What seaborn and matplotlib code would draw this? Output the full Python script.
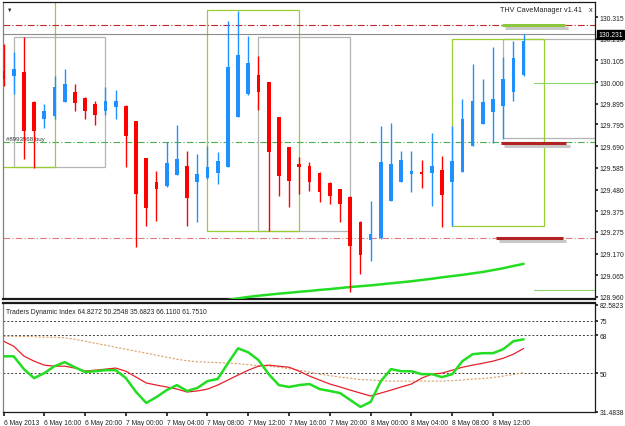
import numpy as np
import pandas as pd
import seaborn as sns
import matplotlib.pyplot as plt
from matplotlib.patches import Rectangle

# H1 candles, 6 May 12:00 -> 8 May 15:00
opens = [130.054, 130.030, 130.049, 129.904, 129.821, 129.836, 129.904, 129.952, 129.923, 129.894,
         129.860, 129.880, 129.884, 129.812, 129.633, 129.517, 129.497, 129.550, 129.594, 129.517,
         129.536, 129.560, 129.589, 129.831, 129.942, 130.034, 130.000, 129.831, 129.686, 129.604,
         129.594, 129.560, 129.512, 129.483, 129.444, 129.323, 129.236, 129.246, 129.425, 129.517,
         129.555, 129.565, 129.560, 129.575, 129.517, 129.565, 129.691, 129.797, 129.855, 129.884,
         129.952, 130.034]
highs = [130.184, 130.146, 130.218, 129.909, 129.894, 130.030, 130.063, 129.991, 129.928, 129.909,
         129.976, 129.962, 129.889, 129.812, 129.633, 129.570, 129.710, 129.792, 129.667, 129.652,
         129.691, 129.662, 130.296, 130.344, 130.223, 130.126, 130.000, 129.831, 129.686, 129.638,
         129.613, 129.565, 129.517, 129.483, 129.449, 129.328, 129.425, 129.788, 129.802, 129.667,
         129.667, 129.623, 129.754, 129.642, 129.788, 129.918, 130.088, 130.015, 130.170, 130.121,
         130.199, 130.233]
lows = [129.981, 129.942, 129.628, 129.584, 129.778, 129.821, 129.904, 129.860, 129.821, 129.792,
        129.841, 129.821, 129.589, 129.202, 129.304, 129.328, 129.492, 129.550, 129.304, 129.323,
        129.531, 129.507, 129.589, 129.831, 129.938, 129.865, 129.279, 129.449, 129.396, 129.459,
        129.473, 129.420, 129.410, 129.323, 128.984, 129.071, 129.134, 129.241, 129.425, 129.517,
        129.468, 129.488, 129.400, 129.299, 129.304, 129.565, 129.691, 129.797, 129.705, 129.725,
        129.909, 130.030]
closes = [130.015, 130.063, 129.763, 129.763, 129.860, 129.976, 129.991, 129.899, 129.860, 129.841,
          129.909, 129.909, 129.739, 129.459, 129.391, 129.483, 129.608, 129.628, 129.439, 129.555,
          129.589, 129.618, 130.073, 130.131, 130.092, 129.952, 129.662, 129.546, 129.521, 129.589,
          129.517, 129.468, 129.449, 129.410, 129.207, 129.163, 129.265, 129.613, 129.604, 129.623,
          129.570, 129.555, 129.594, 129.454, 129.618, 129.821, 129.909, 129.904, 129.918, 130.015,
          130.117, 130.199]

# moving average (starts below the visible range)
ma_start = 22
ma_values = [128.945, 128.953, 128.960, 128.966, 128.971, 128.976, 128.980, 128.985, 128.989, 128.994,
             128.998, 129.003, 129.008, 129.012, 129.016, 129.021, 129.026, 129.031, 129.036, 129.042,
             129.048, 129.055, 129.061, 129.067, 129.074, 129.081, 129.090, 129.099, 129.110, 129.120]

# Traders Dynamic Index
tdi_green = [58.0, 58.0, 51.9, 47.6, 50.0, 53.3, 55.2, 52.8, 50.5, 50.9, 51.4, 51.4, 47.6, 41.0, 35.8,
             38.6, 41.9, 44.3, 41.5, 42.9, 46.2, 47.2, 54.7, 61.8, 59.9, 56.2, 49.5, 44.3, 43.4, 44.3,
             44.8, 42.4, 41.5, 40.5, 37.2, 33.9, 36.3, 46.2, 51.9, 50.9, 50.9, 49.5, 49.5, 48.1, 49.5,
             55.7, 59.0, 59.5, 59.5, 61.4, 65.2, 66.1]
tdi_red = [65.2, 62.8, 58.1, 55.7, 53.8, 53.3, 53.3, 52.4, 51.0, 51.4, 51.9, 52.4, 50.9, 48.1, 45.3,
           44.3, 43.4, 42.4, 41.0, 41.5, 42.4, 44.3, 46.7, 49.1, 51.4, 53.3, 53.8, 53.3, 52.8, 50.9,
           48.6, 46.7, 44.8, 43.4, 41.9, 40.5, 39.1, 40.5, 41.9, 43.4, 44.8, 47.6, 49.5, 50.0, 51.4,
           52.8, 53.8, 54.7, 55.7, 57.1, 59.0, 61.75]
tdi_mid = [67.5, 67.5, 67.5, 67.3, 67.1, 67.1, 66.8, 66.1, 65.2, 64.2, 63.3, 62.3, 61.4, 60.4, 59.5,
           58.5, 57.6, 56.6, 55.9, 55.4, 55.2, 55.0, 54.7, 54.5, 54.0, 53.6, 53.3, 52.8, 52.1, 51.4,
           50.5, 49.5, 48.8, 48.1, 47.6, 46.9, 46.7, 46.4, 46.2, 46.2, 46.2, 46.2, 46.2, 46.2, 46.4,
           46.7, 47.2, 47.4, 47.9, 48.6, 49.3, 50.25]
tdi_levels = [75, 68, 50]

price_ticks = [130.315, 130.210, 130.105, 130.000, 129.895, 129.795, 129.690, 129.585,
               129.480, 129.375, 129.275, 129.170, 129.065, 128.960]
tdi_ticks = [82.5823, 75, 68, 50, 31.4838]
tdi_tick_labels = ["82.5823", "75", "68", "50", "31.4838"]
time_labels = ["6 May 2013", "6 May 16:00", "6 May 20:00", "7 May 00:00", "7 May 04:00",
               "7 May 08:00", "7 May 12:00", "7 May 16:00", "7 May 20:00", "8 May 00:00",
               "8 May 04:00", "8 May 08:00", "8 May 12:00"]
last_price = 130.231

# CaveManager boxes: (start bar, end bar, low, high)
green_boxes = [(-4, 5, 129.589, 130.45), (20, 29, 129.279, 130.349), (44, 53, 129.304, 130.209)]
gray_boxes = [(1, 10, 129.589, 130.218), (25, 34, 129.279, 130.218), (49, 58, 129.729, 130.209)]
# horizontal levels
level_upper = 130.276
level_mid = 129.709
level_lower = 129.244
# short level bars: (start bar, end bar, price, colour)
short_bars = [(48.9, 55.1, 130.276, "#8CC63F"), (48.8, 55.2, 129.705, "#B22222"),
              (48.3, 54.9, 129.243, "#B22222")]
thin_greens = [129.996, 128.994]

sns.set_theme(style="white")
plt.rcParams['font.family'] = ['Liberation Sans', 'DejaVu Sans']

n = len(closes)
df = pd.DataFrame({"bar": np.arange(n), "open": opens, "high": highs,
                   "low": lows, "close": closes})
df["up"] = df["close"] >= df["open"]

fig = plt.figure(figsize=(6.25, 4.27), dpi=100)
ax = fig.add_axes([0.004, 0.2974, 0.948, 0.6956])
ax2 = fig.add_axes([0.004, 0.0328, 0.948, 0.2553], sharex=ax)

# boxes
for x0, x1, lo, hi in gray_boxes:
    ax.add_patch(Rectangle((x0, lo), x1 - x0, hi - lo, fill=False, ec="#B4B4B4", lw=0.9, zorder=1))
for x0, x1, lo, hi in green_boxes:
    ax.add_patch(Rectangle((x0, lo), x1 - x0, hi - lo, fill=False, ec="#9ACD32", lw=0.9, zorder=1))

ax.axhline(level_upper, color="#C0282D", lw=0.8, ls=(0, (6, 2, 1, 2)), zorder=1)
ax.axhline(level_mid, color="#4CAF50", lw=0.8, ls=(0, (6, 2, 1, 2)), zorder=1)
ax.axhline(level_lower, color="#E07A7A", lw=0.8, ls=(0, (6, 2, 1, 2)), zorder=1)
ax.axhline(last_price, color="#8C8C8C", lw=0.8, zorder=1)

for x0, x1, p, c in short_bars:
    ax.plot([x0 + 0.3, x1 + 0.3], [p - 0.012, p - 0.012], color="#C8C8C8", lw=2.2,
            solid_capstyle="butt", zorder=2)
    ax.plot([x0, x1], [p, p], color=c, lw=2.2, solid_capstyle="butt", zorder=3)
for p in thin_greens:
    ax.plot([52, 58.2], [p, p], color="#8BD46A", lw=0.8, zorder=2)

# candles
for _, r in df.iterrows():
    col = "#1E90FF" if r["up"] else "#FF0000"
    ax.vlines(r["bar"], r["low"], r["high"], color=col, lw=1.0, zorder=4)
    lo = min(r["open"], r["close"])
    h = max(abs(r["close"] - r["open"]), 0.004)
    ax.bar(r["bar"], h, bottom=lo, width=0.36, color=col, lw=0, zorder=5)

ma_df = pd.DataFrame({"bar": np.arange(ma_start, ma_start + len(ma_values)), "ma": ma_values})
sns.lineplot(data=ma_df, x="bar", y="ma", ax=ax, color="#22DD22", lw=1.8, zorder=3)

ax.text(0.25, 129.714, "#8993968 buy", fontsize=4.4, color="#333333", va="bottom")
ax.text(0.978, 0.975, "THV CaveManager v1.41", transform=ax.transAxes, fontsize=5.2,
        ha="right", va="center", color="#222222")
ax.text(0.993, 0.975, "x", transform=ax.transAxes, fontsize=5.2, ha="center",
        va="center", color="#222222")
ax.text(0.008, 0.975, "\u25BC", transform=ax.transAxes, fontsize=4, va="center", color="#222222")

ax.set_xlim(-0.1, 58.0)
ax.set_ylim(128.950, 130.388)
ax.yaxis.tick_right()
ax.set_yticks(price_ticks)
ax.set_yticklabels([f"{t:.3f}" for t in price_ticks])
ax.tick_params(axis="y", labelsize=4.9, length=2, pad=1.5, colors="#222222", right=True)
ax.tick_params(axis="x", bottom=False, labelbottom=False)
ax.set_xlabel("")
ax.set_ylabel("")
ax.text(1.005, (last_price - 128.950) / (130.388 - 128.950), f"{last_price:.3f}",
        transform=ax.transAxes, fontsize=4.9, color="white", va="center", ha="left",
        bbox=dict(boxstyle="square,pad=0.2", fc="black", ec="black"), zorder=10)

# indicator panel
tdi = pd.DataFrame({"bar": np.arange(n), "green": tdi_green, "red": tdi_red, "mid": tdi_mid})
for lv in tdi_levels:
    ax2.axhline(lv, color="#404040", lw=0.7, ls=(0, (2, 2)), zorder=1)
sns.lineplot(data=tdi, x="bar", y="mid", ax=ax2, color="#D9A066", lw=0.8, ls=(0, (2, 1.5)))
sns.lineplot(data=tdi, x="bar", y="red", ax=ax2, color="#E8202A", lw=0.9)
sns.lineplot(data=tdi, x="bar", y="green", ax=ax2, color="#22DD22", lw=1.8)
ax2.set_ylim(31.4838, 83.4)
ax2.yaxis.tick_right()
ax2.set_yticks(tdi_ticks)
ax2.set_yticklabels(tdi_tick_labels)
ax2.tick_params(axis="y", labelsize=4.9, length=2, pad=1.5, colors="#222222", right=True)
ax2.set_xticks(np.arange(0, n, 4))
ax2.set_xticklabels(time_labels, ha="left")
ax2.tick_params(axis="x", labelsize=4.9, length=3, pad=2, colors="#222222", bottom=True)
ax2.set_xlabel("")
ax2.set_ylabel("")
ax2.text(0.006, 0.92, "Traders Dynamic Index 64.8272 50.2548 35.6823 66.1100 61.7510",
         transform=ax2.transAxes, fontsize=4.9, va="center", color="#222222")

for a in (ax, ax2):
    for s in a.spines.values():
        s.set_color("#1A1A1A")
        s.set_linewidth(0.9)
    a.spines["left"].set_color("#808080")
ax.spines["bottom"].set_linewidth(1.6)
ax2.spines["top"].set_linewidth(1.6)

fig.savefig("out.png", dpi=100)
